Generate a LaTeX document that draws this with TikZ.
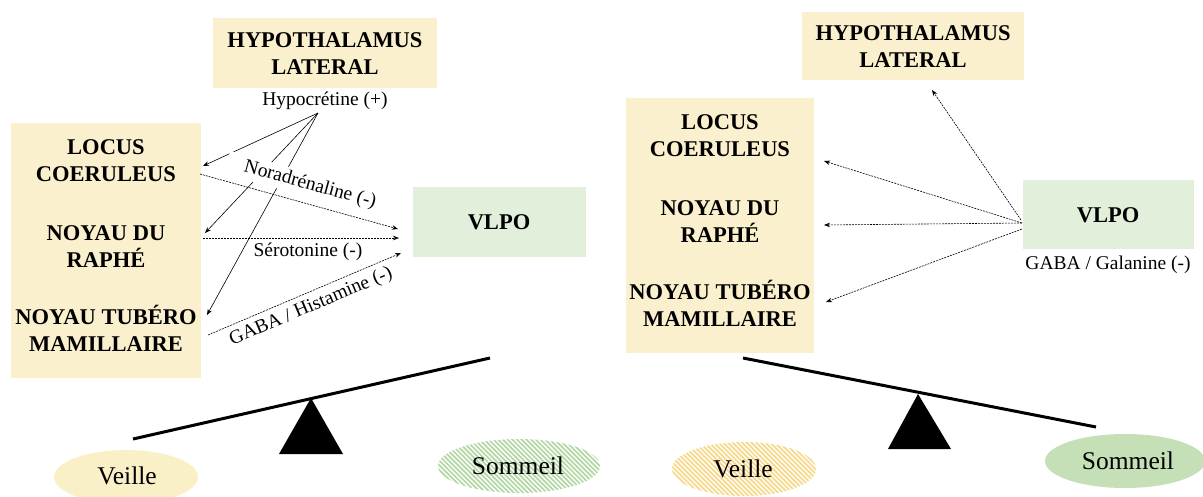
\documentclass[tikz,border=0pt]{standalone}
\usepackage{fontspec}
\setmainfont{Liberation Serif}
\usetikzlibrary{arrows.meta}
\definecolor{cream}{HTML}{FBF0CD}
\definecolor{palegreen}{HTML}{E2EFDA}
\definecolor{sgreen}{HTML}{C5DFB6}
\definecolor{hgreen}{HTML}{B4D8A4}
\definecolor{hyellow}{HTML}{F8D889}
\definecolor{vcream}{HTML}{FAF0C8}
\begin{document}
\begin{tikzpicture}[x=1pt,y=-1pt,
  boxfill/.style={inner sep=0pt, outer sep=0pt},
  btxt/.style={font=\fontsize{22.5}{27}\selectfont\bfseries, align=center, inner sep=0pt},
  ltxt/.style={font=\fontsize{19.5}{22}\selectfont, inner sep=1pt},
  etxt/.style={font=\fontsize{25.5}{28}\selectfont, inner sep=0pt},
  sarr/.style={-{Stealth[length=6pt,width=4.5pt]}, line width=0.6pt},
  darr/.style={-{Stealth[length=6pt,width=4.5pt]}, line width=0.6pt, dash pattern=on 2pt off 1pt},
  bar/.style={line width=3pt},
]
\useasboundingbox (0,0) rectangle (1203,496);
\fill[white] (0,0) rectangle (1203,496);

% ===================== LEFT PANEL =====================
\node[boxfill, fill=cream, minimum width=224pt, minimum height=70pt] (hlLbox) at (325,53) {};
\node[btxt] (hlL) at (325,53.5) {HYPOTHALAMUS\\LATERAL};
\node[boxfill, fill=cream, minimum width=190pt, minimum height=255pt] (bigL) at (105.5,250.5) {};
\node[btxt] (lcL) at (106,161) {LOCUS\\COERULEUS};
\node[btxt] (nrL) at (106,246.5) {NOYAU DU\\RAPHÉ};
\node[btxt] (ntL) at (106,330.5) {NOYAU TUB\smash{É}RO\\MAMILLAIRE};
\node[boxfill, fill=palegreen, minimum width=173pt, minimum height=70pt] (vlLbox) at (499.5,222) {};
\node[btxt] (vlL) at (499,222) {VLPO};

\node[ltxt] (hyp) at (325,101) {Hypocrétine (+)};
\coordinate (hp) at (318,113);
\coordinate (t1) at (203,166);
\coordinate (t2) at (205,233);
\coordinate (t3) at (207,315);
\draw[sarr] (hp) -- (t1);
\draw[sarr] (hp) -- (t2);
\draw[sarr] (hp) -- (t3);

\node[ltxt, fill=white, inner xsep=18pt, inner ysep=3pt, rotate=-15.3] (nor) at (310,185) {Noradrénaline (-)};
\node[ltxt] (ser) at (308,252) {Sérotonine (-)};
\node[ltxt, rotate=23] (gab) at (311,307) {GABA / Histamine (-)};

\coordinate (n1) at (200,174);
\coordinate (n2) at (398,229);
\coordinate (s1) at (203,238);
\coordinate (s2) at (399,238);
\coordinate (g1) at (208,335);
\coordinate (g2) at (401,253);
\draw[darr] (n1) -- (n2);
\draw[darr] (s1) -- (s2);
\draw[darr] (g1) -- (g2);

% seesaw left
\coordinate (bl1) at (133,439);
\coordinate (bl2) at (490,358);
\draw[bar] (bl1) -- (bl2);
\fill[black] (311,398) -- (279,454) -- (343,454) -- cycle;

% ellipses left
\fill[vcream] (126,477) ellipse [x radius=72, y radius=27];
\node[etxt] (veL) at (127,476) {Veille};
\begin{scope}
  \clip (519,466) ellipse [x radius=81, y radius=27];
  \foreach \k in {-140,-135.3,...,140} \draw[hgreen, line width=1.7pt] (519+\k-40,426) -- (519+\k+40,506);
\end{scope}
\node[etxt] (soL) at (518,466) {Sommeil};

% ===================== RIGHT PANEL =====================
\node[boxfill, fill=cream, minimum width=222pt, minimum height=68pt] (hlRbox) at (913,46) {};
\node[btxt] (hlR) at (913,46.5) {HYPOTHALAMUS\\LATERAL};
\node[boxfill, fill=cream, minimum width=188pt, minimum height=255pt] (bigR) at (720,225.5) {};
\node[btxt] (lcR) at (720,136) {LOCUS\\COERULEUS};
\node[btxt] (nrR) at (720,221.5) {NOYAU DU\\RAPHÉ};
\node[btxt] (ntR) at (720,305.5) {NOYAU TUB\smash{É}RO\\MAMILLAIRE};
\node[boxfill, fill=palegreen, minimum width=171pt, minimum height=69pt] (vlRbox) at (1108.5,214.5) {};
\node[btxt] (vlR) at (1108,215) {VLPO};
\node[ltxt] (gal) at (1108,265) {GABA / Galanine (-)};

\coordinate (v0) at (1021,220);
\coordinate (v1) at (1022,223);
\coordinate (v2) at (1022,229);
\coordinate (r0) at (932,90);
\coordinate (r1) at (824,161);
\coordinate (r2) at (824,225);
\coordinate (r3) at (826,302);
\draw[darr] (v0) -- (r0);
\draw[darr] (v1) -- (r1);
\draw[darr] (v1) -- (r2);
\draw[darr] (v2) -- (r3);

% seesaw right
\coordinate (br1) at (743,358);
\coordinate (br2) at (1096,427);
\draw[bar] (br1) -- (br2);
\fill[black] (918,394) -- (888,449) -- (951,449) -- cycle;

% ellipses right
\begin{scope}
  \clip (744,469) ellipse [x radius=72, y radius=27];
  \foreach \k in {-140,-135.3,...,140} \draw[hyellow, line width=1.7pt] (744+\k-40,429) -- (744+\k+40,509);
\end{scope}
\node[etxt] (veR) at (743,469) {Veille};
\fill[sgreen] (1125,461) ellipse [x radius=80, y radius=27];
\node[etxt] (soR) at (1128,461) {Sommeil};
\end{tikzpicture}
\end{document}
